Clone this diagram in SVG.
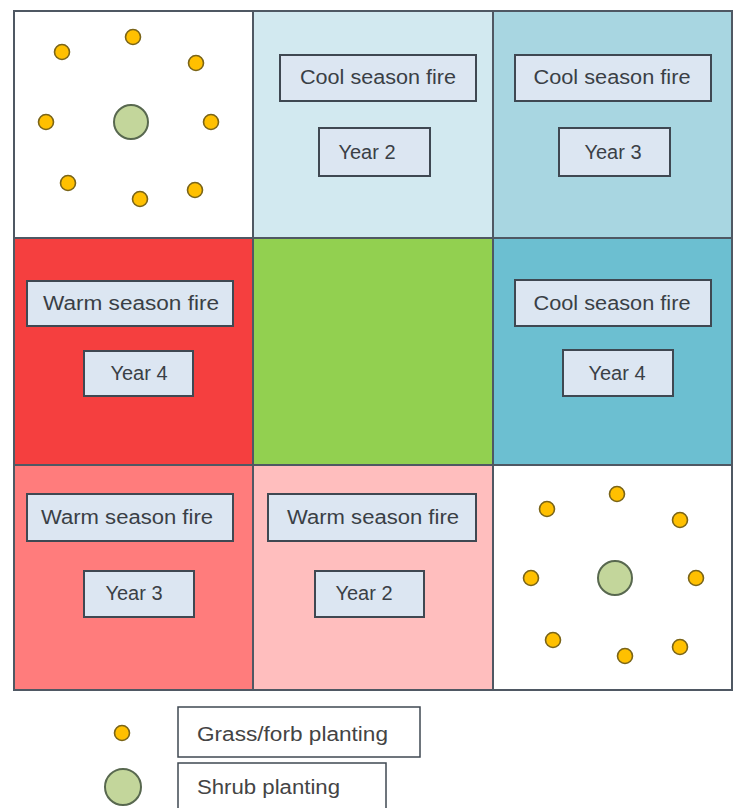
<svg xmlns="http://www.w3.org/2000/svg" width="736" height="808" viewBox="0 0 736 808">
<style>
.cell{stroke:#4f5863;stroke-width:2}
.lbl{fill:#dce6f2;stroke:#3f4852;stroke-width:2}
.t{font-family:"Liberation Sans",Arial,sans-serif;font-size:20px;fill:#3a3f46;text-anchor:middle}
.lt{font-family:"Liberation Sans",Arial,sans-serif;font-size:20px;fill:#444;}
.dot{fill:#ffc000;stroke:#7a6418;stroke-width:1.6}
.shrub{fill:#c3d69b;stroke:#58684f;stroke-width:2}
.leg{fill:#fff;stroke:#3f4852;stroke-width:1.5}
</style>
<rect width="736" height="808" fill="#fff"/>
<g id="cells">
<rect class="cell" x="14" y="11" width="239" height="227" fill="#ffffff"/>
<rect class="cell" x="253" y="11" width="240" height="227" fill="#d2e9f0"/>
<rect class="cell" x="493" y="11" width="239" height="227" fill="#a8d6e1"/>
<rect class="cell" x="14" y="238" width="239" height="227" fill="#f53f3f"/>
<rect class="cell" x="253" y="238" width="240" height="227" fill="#92d050"/>
<rect class="cell" x="493" y="238" width="239" height="227" fill="#6cbfd1"/>
<rect class="cell" x="14" y="465" width="239" height="225" fill="#ff7c7c"/>
<rect class="cell" x="253" y="465" width="240" height="225" fill="#ffbebe"/>
<rect class="cell" x="493" y="465" width="239" height="225" fill="#ffffff"/>
</g>
<g id="planting-top-left">
<circle class="dot" cx="62" cy="52" r="7.5"/>
<circle class="dot" cx="133" cy="37" r="7.5"/>
<circle class="dot" cx="196" cy="63" r="7.5"/>
<circle class="dot" cx="46" cy="122" r="7.5"/>
<circle class="dot" cx="211" cy="122" r="7.5"/>
<circle class="dot" cx="68" cy="183" r="7.5"/>
<circle class="dot" cx="140" cy="199" r="7.5"/>
<circle class="dot" cx="195" cy="190" r="7.5"/>
<circle class="shrub" cx="131" cy="122" r="17"/>
</g>
<g id="planting-bottom-right">
<circle class="dot" cx="547" cy="509" r="7.5"/>
<circle class="dot" cx="617" cy="494" r="7.5"/>
<circle class="dot" cx="680" cy="520" r="7.5"/>
<circle class="dot" cx="531" cy="578" r="7.5"/>
<circle class="dot" cx="696" cy="578" r="7.5"/>
<circle class="dot" cx="553" cy="640" r="7.5"/>
<circle class="dot" cx="625" cy="656" r="7.5"/>
<circle class="dot" cx="680" cy="647" r="7.5"/>
<circle class="shrub" cx="615" cy="578" r="17"/>
</g>
<g id="cool-year2">
<rect class="lbl" x="280" y="55" width="196" height="46"/>
<text class="t" x="378" y="84" textLength="156" lengthAdjust="spacingAndGlyphs">Cool season fire</text>
<rect class="lbl" x="319" y="128" width="111" height="48"/>
<text class="t" x="367" y="159">Year 2</text>
</g>
<g id="cool-year3">
<rect class="lbl" x="515" y="55" width="196" height="46"/>
<text class="t" x="612" y="84" textLength="157" lengthAdjust="spacingAndGlyphs">Cool season fire</text>
<rect class="lbl" x="559" y="128" width="111" height="48"/>
<text class="t" x="613" y="159">Year 3</text>
</g>
<g id="warm-year4">
<rect class="lbl" x="27" y="281" width="206" height="45"/>
<text class="t" x="131" y="310" textLength="176" lengthAdjust="spacingAndGlyphs">Warm season fire</text>
<rect class="lbl" x="84" y="351" width="109" height="45"/>
<text class="t" x="139" y="380">Year 4</text>
</g>
<g id="center"/>
<g id="cool-year4">
<rect class="lbl" x="515" y="280" width="196" height="46"/>
<text class="t" x="612" y="310" textLength="157" lengthAdjust="spacingAndGlyphs">Cool season fire</text>
<rect class="lbl" x="563" y="350" width="110" height="46"/>
<text class="t" x="617" y="380">Year 4</text>
</g>
<g id="warm-year3">
<rect class="lbl" x="27" y="494" width="206" height="47"/>
<text class="t" x="127" y="524" textLength="172" lengthAdjust="spacingAndGlyphs">Warm season fire</text>
<rect class="lbl" x="84" y="571" width="110" height="46"/>
<text class="t" x="134" y="600">Year 3</text>
</g>
<g id="warm-year2">
<rect class="lbl" x="268" y="494" width="208" height="47"/>
<text class="t" x="373" y="524" textLength="172" lengthAdjust="spacingAndGlyphs">Warm season fire</text>
<rect class="lbl" x="315" y="571" width="109" height="46"/>
<text class="t" x="364" y="600">Year 2</text>
</g>
<g id="legend-grass">
<circle class="dot" cx="122" cy="733" r="7.5"/>
<rect class="leg" x="178" y="707" width="242" height="50"/>
<text class="lt" x="197" y="741" textLength="191" lengthAdjust="spacingAndGlyphs">Grass/forb planting</text>
</g>
<g id="legend-shrub">
<circle class="shrub" cx="123" cy="787" r="18"/>
<rect class="leg" x="178" y="763" width="208" height="60"/>
<text class="lt" x="197" y="794" textLength="143" lengthAdjust="spacingAndGlyphs">Shrub planting</text>
</g>
<g id="connectors"/>
</svg>
